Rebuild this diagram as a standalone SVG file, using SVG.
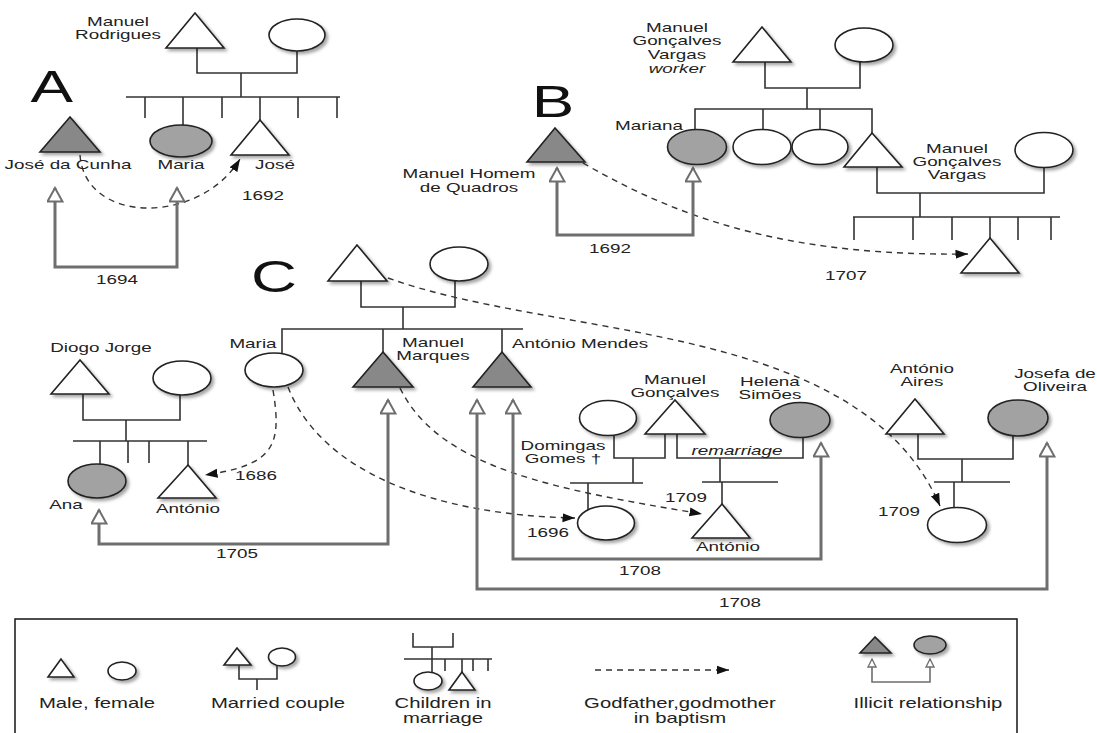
<svg xmlns="http://www.w3.org/2000/svg" width="1097" height="733" viewBox="0 0 1097 733">
<defs>
<filter id="sh" x="-20%" y="-20%" width="150%" height="160%">
<feDropShadow dx="2.5" dy="2.5" stdDeviation="1.6" flood-color="#000" flood-opacity="0.35"/>
</filter>
<marker id="ill" markerUnits="userSpaceOnUse" markerWidth="17" markerHeight="17" viewBox="0 0 17 17" refX="15" refY="8.5" orient="auto-start-reverse">
<path d="M1.5,1 L15,8.5 L1.5,16 Z" fill="#fff" stroke="#6e6e6e" stroke-width="2"/>
</marker>
<marker id="ills" markerUnits="userSpaceOnUse" markerWidth="10" markerHeight="10" viewBox="0 0 10 10" refX="9" refY="5" orient="auto-start-reverse">
<path d="M1,1 L9,5 L1,9 Z" fill="#fff" stroke="#6e6e6e" stroke-width="1.3"/>
</marker>
<marker id="dar" markerUnits="userSpaceOnUse" markerWidth="13" markerHeight="10" viewBox="0 0 13 10" refX="12.5" refY="5" orient="auto">
<path d="M0,0.5 L12.5,5 L0,9.5 Z" fill="#111"/>
</marker>
</defs>
<style>
.m{fill:#fff;stroke:#222;stroke-width:1.6;filter:url(#sh)}
.mg{fill:#888;stroke:#222;stroke-width:1.6;filter:url(#sh)}
.f{fill:#fff;stroke:#222;stroke-width:1.6;filter:url(#sh)}
.fg{fill:#a2a2a2;stroke:#222;stroke-width:1.6;filter:url(#sh)}
.ln{fill:none;stroke:#333;stroke-width:1.6}
.ill{fill:none;stroke:#6e6e6e;stroke-width:3;marker-start:url(#ill);marker-end:url(#ill)}
.ills{fill:none;stroke:#6e6e6e;stroke-width:1.6;marker-start:url(#ills);marker-end:url(#ills)}
.gd{fill:none;stroke:#333;stroke-width:1.4;stroke-dasharray:6 5;marker-end:url(#dar)}
text{font-family:"Liberation Sans",Arial,sans-serif;font-size:13px;fill:#222;text-anchor:middle;transform-box:fill-box;transform-origin:center;transform:scaleX(1.45)}
.big{font-size:44px;fill:#111}
.leg{font-size:14px}
.it{font-style:italic}
</style>
<rect width="1097" height="733" fill="#fff"/>

<!-- Section letters -->
<text class="big" x="52" y="102">A</text>
<text class="big" x="553" y="117">B</text>
<text class="big" x="274" y="292">C</text>

<!-- family lines -->
<g id="lines">
<path class="ln" d="M197,48 V73 H297 V51 M241,73 V97 M126,97 H340 M145,97 V118 M183,97 V125 M222,97 V118 M260,97 V120 M298,97 V118 M337,97 V118"/>
<path class="ln" d="M765,62 V88 H860 V62 M807,88 V109 M695,130 V109 H872 V133 M763,109 V130 M820,109 V130"/>
<path class="ln" d="M877,167 V193 H1044 V168 M920,193 V217 M853,217 H1060 M854,217 V240 M913,217 V240 M952,217 V240 M990,217 V238 M1018,217 V240 M1051,217 V240"/>
<path class="ln" d="M361,281 V307 H455 V281 M403,307 V329 M282,353 V329 H523 M383,329 V352 M502,329 V352"/>
<path class="ln" d="M83,394 V420 H180 V395 M126,420 V441 M73,441 H207 M100,441 V464 M128,441 V463 M149,441 V463 M188,441 V465"/>
<path class="ln" d="M614,435 V458 H665 V434 M633,458 V483 M570,483 H643 M588,483 V510 M677,434 V458 H803 V437 M720,458 V482 M702,482 H778 M722,482 V504"/>
<path class="ln" d="M918,434 V459 H1013 V436 M962,459 V482 M934,482 H1010 M954,482 V508"/>
</g>

<!-- connectors -->
<g id="connectors">
<path class="gd" d="M80,155 C85,225 200,225 240,159"/>
<path class="gd" d="M583,163 C690,225 800,256 968,254"/>
<path class="gd" d="M388,278 C560,340 860,320 940,506"/>
<path class="gd" d="M273,390 C282,445 275,465 205,475"/>
<path class="gd" d="M288,387 C320,470 430,515 575,518"/>
<path class="gd" d="M400,388 C440,470 560,490 702,514"/>
<path class="ill" d="M55,188 V267 H177 V188"/>
<path class="ill" d="M557,168 V235 H693 V168"/>
<path class="ill" d="M99,510 V544 H388 V400"/>
<path class="ill" d="M513,400 V559 H821 V443"/>
<path class="ill" d="M477,400 V589 H1047 V443"/>
<text x="263" y="200">1692</text>
<text x="117" y="284">1694</text>
<text x="610" y="253">1692</text>
<text x="846" y="280">1707</text>
<text x="256" y="480">1686</text>
<text x="237" y="558">1705</text>
<text x="548" y="537">1696</text>
<text x="686" y="502">1709</text>
<text x="640" y="575">1708</text>
<text x="740" y="607">1708</text>
<text x="899" y="516">1709</text>
<text class="it" x="737" y="455">remarriage</text>
</g>

<!-- Section A nodes -->
<g id="a-manuel-rodrigues"><polygon class="m" points="195,13 166,48 224,48"/><text><tspan x="118" y="26">Manuel</tspan><tspan x="118" y="39">Rodrigues</tspan></text></g>
<g id="a-wife"><ellipse class="f" cx="297" cy="35" rx="28" ry="16"/></g>
<g id="a-jose-da-cunha"><polygon class="mg" points="70,117 40,152 100,152"/><text x="68" y="169">José da Cunha</text></g>
<g id="a-maria"><ellipse class="fg" cx="181" cy="141" rx="31" ry="16"/><text x="181" y="169">Maria</text></g>
<g id="a-jose"><polygon class="m" points="260,120 231,155 289,155"/><text x="275" y="169">José</text></g>

<!-- Section B nodes -->
<g id="b-mgv-worker"><polygon class="m" points="762,27 733,62 791,62"/><text><tspan x="677" y="32">Manuel</tspan><tspan x="677" y="45">Gonçalves</tspan><tspan x="677" y="59">Vargas</tspan><tspan x="677" y="73" font-style="italic">worker</tspan></text></g>
<g id="b-wife1"><ellipse class="f" cx="864" cy="45" rx="29" ry="17"/></g>
<g id="b-mariana"><ellipse class="fg" cx="697" cy="147" rx="29.5" ry="17.5"/><text x="649" y="130">Mariana</text></g>
<g id="b-daughter2"><ellipse class="f" cx="762" cy="147" rx="29" ry="17.5"/></g>
<g id="b-daughter3"><ellipse class="f" cx="820" cy="147" rx="28" ry="17.5"/></g>
<g id="b-mgv"><polygon class="m" points="872,133 844,167 902,167"/><text><tspan x="957" y="153">Manuel</tspan><tspan x="957" y="166">Gonçalves</tspan><tspan x="957" y="179">Vargas</tspan></text></g>
<g id="b-wife2"><ellipse class="f" cx="1044" cy="150" rx="29" ry="17.5"/></g>
<g id="b-child"><polygon class="m" points="990,238 961,273 1019,273"/></g>
<g id="b-manuel-homem"><polygon class="mg" points="555,128 527,162 585,162"/><text><tspan x="469" y="178">Manuel Homem</tspan><tspan x="469" y="192">de Quadros</tspan></text></g>

<!-- Section C nodes -->
<g id="c-father"><polygon class="m" points="357,245 328,281 387,281"/></g>
<g id="c-mother"><ellipse class="f" cx="459" cy="264" rx="29" ry="17"/></g>
<g id="c-maria"><ellipse class="f" cx="274" cy="370" rx="29" ry="17"/><text x="253" y="348">Maria</text></g>
<g id="c-manuel-marques"><polygon class="mg" points="383,352 353,387 413,387"/><text><tspan x="433" y="347">Manuel</tspan><tspan x="433" y="360">Marques</tspan></text></g>
<g id="c-antonio-mendes"><polygon class="mg" points="502,352 473,387 531,387"/><text x="580" y="348">António Mendes</text></g>
<g id="c-diogo-jorge"><polygon class="m" points="80,360 51,394 109,394"/><text x="101" y="352">Diogo Jorge</text></g>
<g id="c-diogo-wife"><ellipse class="f" cx="182" cy="378" rx="29" ry="17"/></g>
<g id="c-ana"><ellipse class="fg" cx="97" cy="481" rx="29" ry="17"/><text x="66" y="509">Ana</text></g>
<g id="c-antonio1"><polygon class="m" points="188,465 158,498 216,498"/><text x="188" y="513">António</text></g>
<g id="c-domingas"><ellipse class="f" cx="608" cy="418" rx="28.5" ry="17.5"/><text><tspan x="563" y="450">Domingas</tspan><tspan x="563" y="463">Gomes †</tspan></text></g>
<g id="c-manuel-goncalves"><polygon class="m" points="675,400 645,434 705,434"/><text><tspan x="675" y="384">Manuel</tspan><tspan x="675" y="397">Gonçalves</tspan></text></g>
<g id="c-helena"><ellipse class="fg" cx="800" cy="420" rx="30" ry="17.5"/><text><tspan x="770" y="386">Helena</tspan><tspan x="770" y="399">Simões</tspan></text></g>
<g id="c-daughter-1696"><ellipse class="f" cx="606" cy="523" rx="28.5" ry="17"/></g>
<g id="c-antonio2"><polygon class="m" points="722,504 692,538 750,538"/><text x="728" y="551">António</text></g>
<g id="c-antonio-aires"><polygon class="m" points="915,399 886,434 944,434"/><text><tspan x="922" y="373">António</tspan><tspan x="922" y="386">Aires</tspan></text></g>
<g id="c-josefa"><ellipse class="fg" cx="1018" cy="418" rx="30" ry="18"/><text><tspan x="1055" y="378">Josefa de</tspan><tspan x="1055" y="391">Oliveira</tspan></text></g>
<g id="c-daughter-1709"><ellipse class="f" cx="957" cy="525" rx="29.5" ry="17.5"/></g>

<!-- Legend -->
<g id="legend">
<rect x="15" y="619" width="1002" height="130" fill="none" stroke="#222" stroke-width="1.6"/>
<polygon class="m" points="61,659 48,677 74,677"/>
<ellipse class="f" cx="122" cy="671" rx="14" ry="9"/>
<text class="leg" x="97" y="708">Male, female</text>
<polygon class="m" points="237,648 224,665 251,665"/>
<ellipse class="f" cx="282" cy="657" rx="13.5" ry="9"/>
<path class="ln" d="M239,665 V679 H277 V666 M257,679 V690"/>
<text class="leg" x="278" y="708">Married couple</text>
<path class="ln" d="M413,633 V647 H453 V633 M432,647 V659 M404,659 H492 M432,659 V672 M445,659 V671 M462,659 V672 M473,659 V671 M488,659 V671"/>
<ellipse class="f" cx="428" cy="681" rx="14" ry="9"/>
<polygon class="m" points="462,672 449,690 475,690"/>
<text class="leg"><tspan x="443" y="708">Children in</tspan><tspan x="443" y="723">marriage</tspan></text>
<path class="gd" d="M595,670 H729"/>
<text class="leg"><tspan x="680" y="708">Godfather,godmother</tspan><tspan x="680" y="723">in baptism</tspan></text>
<polygon class="mg" points="875,637 860,653 891,653"/>
<ellipse class="fg" cx="930" cy="645" rx="16" ry="9"/>
<path class="ills" d="M872,659 V682 H930 V659"/>
<text class="leg" x="928" y="708">Illicit relationship</text>
</g>
</svg>
